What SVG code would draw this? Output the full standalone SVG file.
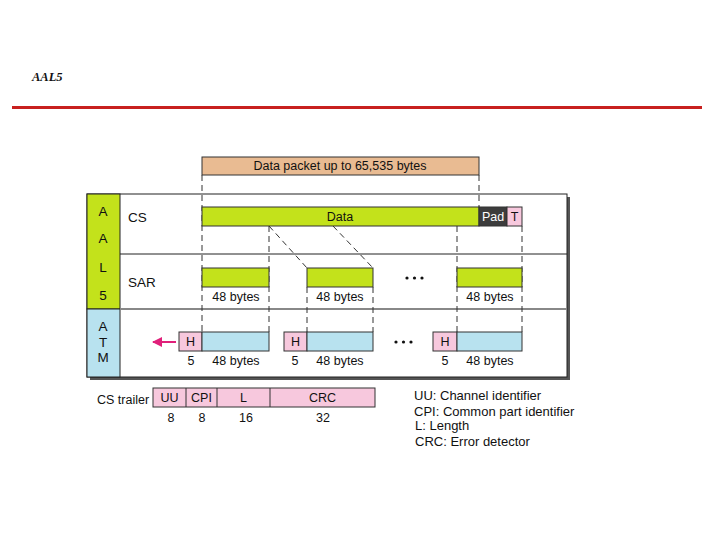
<svg xmlns="http://www.w3.org/2000/svg" width="720" height="540" viewBox="0 0 720 540">
<style>
text{font-family:"Liberation Sans","Open Sans",sans-serif;font-size:12.5px;fill:#111}
.c{text-anchor:middle}
.big{font-size:13.5px}
.leg{font-size:13px}
.grn{fill:#c3e21b;stroke:#333;stroke-width:1}
.blu{fill:#b8e2ef;stroke:#333;stroke-width:1}
.pnk{fill:#f7c8dd;stroke:#333;stroke-width:1}
.dash{stroke:#333;stroke-width:1;stroke-dasharray:6,4;fill:none}
</style>
<defs>
<marker id="ah" viewBox="0 0 10 10" refX="9" refY="5" markerWidth="5" markerHeight="5" orient="auto"><path d="M0,0L10,5L0,10z" fill="#e0207a"/></marker>
</defs>
<text x="32" y="81" style="font-family:'Liberation Serif',serif;font-style:italic;font-weight:bold;font-size:12.5px">AAL5</text>
<rect x="12" y="106" width="690" height="3" fill="#c8201f"/>

<g id="frame">
<rect x="90" y="197" width="480" height="183" fill="#555"/>
<rect x="87" y="194" width="480" height="183" fill="#fff" stroke="#222" stroke-width="1"/>
<rect x="87" y="194" width="33" height="115" fill="#c3e21b" stroke="#222" stroke-width="1"/>
<rect x="87" y="309" width="33" height="68" fill="#b8e2ef" stroke="#222" stroke-width="1"/>
<line x1="120" y1="254" x2="567" y2="254" stroke="#222" stroke-width="1"/>
<line x1="120" y1="309" x2="567" y2="309" stroke="#888" stroke-width="2"/>
<text class="c big" x="103" y="216">A</text>
<text class="c big" x="103" y="243">A</text>
<text class="c big" x="103" y="272">L</text>
<text class="c big" x="103" y="300">5</text>
<text class="c big" x="103" y="331">A</text>
<text class="c big" x="103" y="347">T</text>
<text class="c big" x="103" y="362">M</text>
<text class="big" x="128" y="222">CS</text>
<text class="big" x="128" y="287">SAR</text>
</g>

<g id="connectors">
<line class="dash" x1="202" y1="175" x2="202" y2="332"/>
<line class="dash" x1="479" y1="175" x2="479" y2="207"/>
<line class="dash" x1="269" y1="226" x2="269" y2="332"/>
<line class="dash" x1="269" y1="226" x2="307" y2="268"/>
<line class="dash" x1="333" y1="226" x2="373" y2="268"/>
<line class="dash" x1="307" y1="287" x2="307" y2="332"/>
<line class="dash" x1="373" y1="287" x2="373" y2="332"/>
<line class="dash" x1="457" y1="226" x2="457" y2="332"/>
<line class="dash" x1="522" y1="226" x2="522" y2="332"/>
<line x1="176" y1="342" x2="153" y2="342" stroke="#e0207a" stroke-width="2" marker-end="url(#ah)"/>
</g>

<g id="packet">
<rect x="202" y="157" width="277" height="18" fill="#e9bb92" stroke="#333" stroke-width="1"/>
<text class="c" x="340" y="170">Data packet up to 65,535 bytes</text>
</g>

<g id="cs-data">
<rect class="grn" x="202" y="207" width="277" height="19"/>
<text class="c" x="340" y="221">Data</text>
<rect x="479" y="207" width="28" height="19" fill="#3c3c3c" stroke="#333"/>
<text class="c" x="493" y="221" style="fill:#fff">Pad</text>
<rect class="pnk" x="507" y="207" width="15" height="19"/>
<text class="c" x="514.5" y="221">T</text>
</g>

<g id="sar">
<rect class="grn" x="202" y="268" width="67" height="19"/>
<rect class="grn" x="307" y="268" width="66" height="19"/>
<rect class="grn" x="457" y="268" width="65" height="19"/>
<text class="c" x="236" y="301">48 bytes</text>
<text class="c" x="340" y="301">48 bytes</text>
<text class="c" x="490" y="301">48 bytes</text>
<g fill="#111"><circle cx="407" cy="278" r="1.6"/><circle cx="414.5" cy="278" r="1.6"/><circle cx="422" cy="278" r="1.6"/></g>
</g>

<g id="atm">
<rect class="pnk" x="179" y="332" width="23" height="19"/>
<rect class="blu" x="202" y="332" width="67" height="19"/>
<rect class="pnk" x="284" y="332" width="23" height="19"/>
<rect class="blu" x="307" y="332" width="66" height="19"/>
<rect class="pnk" x="433" y="332" width="24" height="19"/>
<rect class="blu" x="457" y="332" width="65" height="19"/>
<text class="c" x="190.5" y="346">H</text>
<text class="c" x="295.5" y="346">H</text>
<text class="c" x="445" y="346">H</text>
<text class="c" x="191" y="365">5</text>
<text class="c" x="236" y="365">48 bytes</text>
<text class="c" x="295" y="365">5</text>
<text class="c" x="340" y="365">48 bytes</text>
<text class="c" x="445" y="365">5</text>
<text class="c" x="490" y="365">48 bytes</text>
<g fill="#111"><circle cx="396" cy="342" r="1.6"/><circle cx="403.5" cy="342" r="1.6"/><circle cx="411" cy="342" r="1.6"/></g>
</g>

<g id="trailer">
<text x="97" y="404">CS trailer</text>
<rect class="pnk" x="153" y="388" width="222" height="19"/>
<line x1="186" y1="388" x2="186" y2="407" stroke="#333"/>
<line x1="217" y1="388" x2="217" y2="407" stroke="#333"/>
<line x1="270" y1="388" x2="270" y2="407" stroke="#333"/>
<text class="c" x="169.5" y="402">UU</text>
<text class="c" x="201.5" y="402">CPI</text>
<text class="c" x="243.5" y="402">L</text>
<text class="c" x="322.5" y="402">CRC</text>
<text class="c" x="171" y="422">8</text>
<text class="c" x="202" y="422">8</text>
<text class="c" x="246" y="422">16</text>
<text class="c" x="323" y="422">32</text>
</g>

<g id="legend">
<text class="leg" x="414" y="400">UU: Channel identifier</text>
<text class="leg" x="414" y="416">CPI: Common part identifier</text>
<text class="leg" x="415" y="430">L: Length</text>
<text class="leg" x="415" y="446">CRC: Error detector</text>
</g>
</svg>
